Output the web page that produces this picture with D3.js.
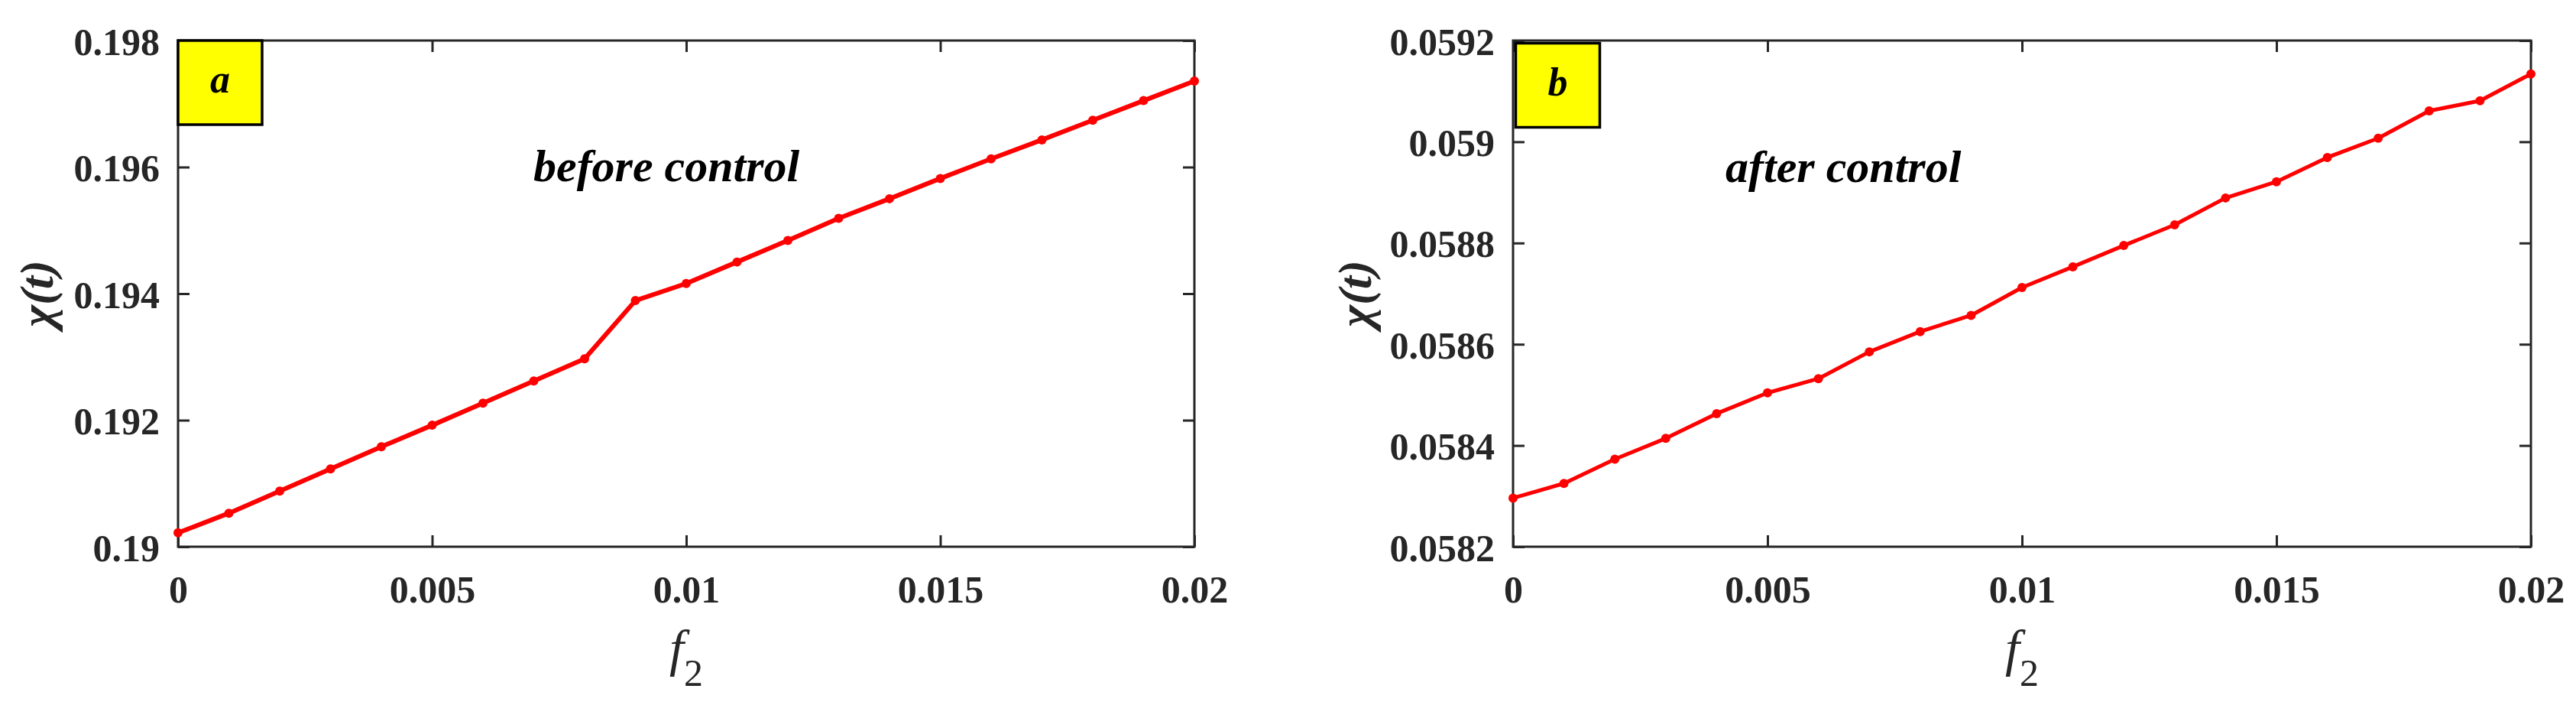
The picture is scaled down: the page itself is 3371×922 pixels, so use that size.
<!DOCTYPE html>
<html>
<head>
<meta charset="utf-8">
<script src="https://cdn.jsdelivr.net/npm/d3@7"></script>
<style>
  html, body { margin: 0; padding: 0; background: #fff; }
  svg { display: block; }
</style>
</head>
<body>
<svg id="chart" width="3371" height="922"></svg>
<script>
// ---------- data ----------
const f2Values = [0, 0.001, 0.002, 0.003, 0.004, 0.005, 0.006, 0.007, 0.008, 0.009, 0.010,
                  0.011, 0.012, 0.013, 0.014, 0.015, 0.016, 0.017, 0.018, 0.019, 0.020];

const beforeControl = [0.19022, 0.19053, 0.19088, 0.19123, 0.19158, 0.19192, 0.19227,
                       0.19262, 0.19297, 0.19389, 0.19416, 0.19450, 0.19484, 0.19519,
                       0.19550, 0.19582, 0.19613, 0.19643, 0.19674, 0.19705, 0.19736];

const afterControl = [0.058296, 0.058325, 0.058373, 0.058414, 0.058463, 0.058504, 0.058532,
                      0.058585, 0.058625, 0.058657, 0.058712, 0.058753, 0.058795, 0.058836,
                      0.058889, 0.058921, 0.058969, 0.059007, 0.059061, 0.059081, 0.059134];

const xTicks = [0, 0.005, 0.01, 0.015, 0.02];
const xTickLabels = ["0", "0.005", "0.01", "0.015", "0.02"];

const yTicksA = [0.19, 0.192, 0.194, 0.196, 0.198];
const yTickLabelsA = ["0.19", "0.192", "0.194", "0.196", "0.198"];

const yTicksB = [0.0582, 0.0584, 0.0586, 0.0588, 0.059, 0.0592];
const yTickLabelsB = ["0.0582", "0.0584", "0.0586", "0.0588", "0.059", "0.0592"];

const panelLetters = ["a", "b"];
const panelTitles = ["before control", "after control"];
const xLabelMain = "f";
const xLabelSub = "2";
const yLabel = "\u03C7(t)";

// ---------- drawing ----------
const svg = d3.select("#chart");
const axisColor = "#262626";
const serif = "Liberation Serif";

const panels = [
  { left: 233, right: 1563, top: 53, bottom: 715, yDomain: [0.19, 0.198],
    yTicks: yTicksA, yLabels: yTickLabelsA, values: beforeControl,
    letter: panelLetters[0], title: panelTitles[0], titleX: 698, titleY: 237,
    boxInset: 0, yLabelX: 69, lineW: 6 },
  { left: 1980, right: 3312, top: 53, bottom: 715, yDomain: [0.0582, 0.0592],
    yTicks: yTicksB, yLabels: yTickLabelsB, values: afterControl,
    letter: panelLetters[1], title: panelTitles[1], titleX: 2258, titleY: 238,
    boxInset: 3.5, yLabelX: 1794, lineW: 5 }
];

panels.forEach(p => {
  const x = d3.scaleLinear().domain([0, 0.02]).range([p.left, p.right]);
  const y = d3.scaleLinear().domain(p.yDomain).range([p.bottom, p.top]);
  const g = svg.append("g");

  // frame
  g.append("rect")
    .attr("x", p.left).attr("y", p.top)
    .attr("width", p.right - p.left).attr("height", p.bottom - p.top)
    .attr("fill", "none").attr("stroke", axisColor).attr("stroke-width", 3);

  const styleAxis = sel => {
    sel.select(".domain").remove();
    sel.selectAll(".tick line").attr("stroke", axisColor).attr("stroke-width", 3);
    sel.selectAll(".tick text")
      .attr("fill", axisColor)
      .attr("font-family", serif)
      .attr("font-weight", "bold")
      .attr("font-size", 50);
  };

  // bottom axis with labels
  const xb = g.append("g").attr("transform", `translate(0,${p.bottom})`)
    .call(d3.axisBottom(x).tickValues(xTicks)
      .tickFormat((d, i) => xTickLabels[i]).tickSizeInner(-15).tickSizeOuter(0));
  styleAxis(xb);
  xb.selectAll(".tick text").attr("y", 73).attr("dy", null);

  // top axis mirror ticks
  const xt = g.append("g").attr("transform", `translate(0,${p.top})`)
    .call(d3.axisTop(x).tickValues(xTicks).tickFormat("").tickSizeInner(-15).tickSizeOuter(0));
  styleAxis(xt);

  // left axis with labels
  const yl = g.append("g").attr("transform", `translate(${p.left},0)`)
    .call(d3.axisLeft(y).tickValues(p.yTicks)
      .tickFormat((d, i) => p.yLabels[i]).tickSizeInner(-15).tickSizeOuter(0));
  styleAxis(yl);
  yl.selectAll(".tick text").attr("x", -24).attr("dy", null).attr("y", 18)
    .attr("text-anchor", "end");

  // right axis mirror ticks
  const yr = g.append("g").attr("transform", `translate(${p.right},0)`)
    .call(d3.axisRight(y).tickValues(p.yTicks).tickFormat("").tickSizeInner(-15).tickSizeOuter(0));
  styleAxis(yr);

  // line
  const pts = f2Values.map((f, i) => [f, p.values[i]]);
  g.append("path")
    .datum(pts)
    .attr("fill", "none").attr("stroke", "#ff0000")
    .attr("stroke-width", p.lineW).attr("stroke-linejoin", "round")
    .attr("d", d3.line().x(d => x(d[0])).y(d => y(d[1])));

  g.selectAll("circle.pt").data(pts).enter().append("circle")
    .attr("class", "pt")
    .attr("cx", d => x(d[0])).attr("cy", d => y(d[1]))
    .attr("r", 6).attr("fill", "#ff0000");

  // panel letter box
  const bx = p.left + p.boxInset, by = p.top + p.boxInset;
  g.append("rect")
    .attr("x", bx).attr("y", by).attr("width", 110).attr("height", 110)
    .attr("fill", "#ffff00").attr("stroke", "#000").attr("stroke-width", 3.5);
  g.append("text")
    .attr("x", bx + 55).attr("y", by + 68)
    .attr("text-anchor", "middle")
    .attr("font-family", serif).attr("font-weight", "bold").attr("font-style", "italic")
    .attr("font-size", 52).attr("fill", "#000")
    .text(p.letter);

  // title
  g.append("text")
    .attr("x", p.titleX).attr("y", p.titleY)
    .attr("font-family", serif).attr("font-weight", "bold").attr("font-style", "italic")
    .attr("font-size", 60).attr("fill", "#000")
    .text(p.title);

  // x label
  const xlab = g.append("text")
    .attr("x", (p.left + p.right) / 2).attr("y", 871)
    .attr("text-anchor", "middle")
    .attr("font-family", serif).attr("font-style", "italic")
    .attr("fill", axisColor);
  xlab.append("tspan").attr("font-size", 68).text(xLabelMain);
  xlab.append("tspan").attr("font-size", 50).attr("font-style", "normal")
    .attr("dy", 26).text(xLabelSub);

  // y label
  g.append("text")
    .attr("transform", `translate(${p.yLabelX},${(p.top + p.bottom) / 2}) rotate(-90)`)
    .attr("text-anchor", "middle")
    .attr("font-family", serif).attr("font-weight", "bold").attr("font-style", "italic")
    .attr("font-size", 62).attr("fill", axisColor)
    .text(yLabel);
});
</script>
</body>
</html>
